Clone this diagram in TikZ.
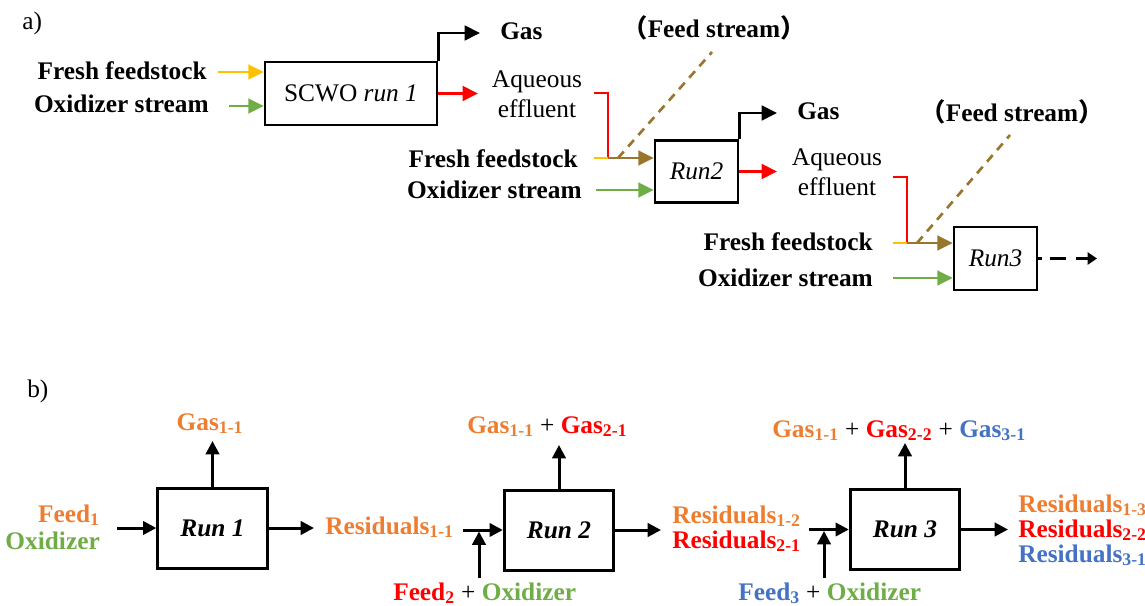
\documentclass[tikz,border=0pt]{standalone}
\usepackage{fontspec}
\setmainfont{Liberation Serif}
\newfontfamily\cjkfont{Noto Sans CJK SC}
\usepackage{tikz}
\usetikzlibrary{arrows.meta, positioning, calc}

\definecolor{feedyellow}{RGB}{255,192,0}
\definecolor{oxgreen}{RGB}{112,173,71}
\definecolor{mixbrown}{RGB}{152,118,46}
\definecolor{runorange}{RGB}{237,125,49}
\definecolor{runblue}{RGB}{68,114,196}

\tikzset{
    unit/.style={draw, line width=2pt, inner sep=0pt, minimum width=62.25pt,
        minimum height=46.5pt, font=\fontsize{19}{22.5}\selectfont},
    runbox/.style={draw, line width=2.25pt, inner sep=0pt, minimum width=82pt,
        minimum height=60pt, font=\bfseries\itshape\fontsize{19}{19}\selectfont},
    flow/.style={line width=2pt, arrows={-{Triangle[length=11.5pt, width=11pt]}}},
    bflow/.style={line width=2.25pt, arrows={-{Triangle[length=10pt, width=10pt]}}},
    pipe/.style={line width=2pt},
    lab/.style={inner sep=0pt, font=\bfseries\fontsize{19}{22.5}\selectfont},
    txt/.style={inner sep=0pt, font=\fontsize{19}{22.5}\selectfont}
}

\begin{document}
\begin{tikzpicture}[x=0.75pt, y=-0.75pt]
        \useasboundingbox (0,0) rectangle (1145,606);
        \node [txt, anchor=base west] (parta) at (22,30) {a)};
        \node [unit, minimum width=129pt, minimum height=47.25pt] (scwo1) at (351,93.5) {SCWO \textit{run 1}};
        \node [lab, anchor=base east] (fresh1) at (207,80) {Fresh feedstock};
        \node [lab, anchor=base east] (oxi1) at (209,113) {Oxidizer stream};
        \coordinate (fresh1in) at (218,72);
        \coordinate (oxi1in) at (229,106);
        \draw [flow, feedyellow] (fresh1in) -- (fresh1in -| scwo1.west);
        \draw [flow, oxgreen] (oxi1in) -- (oxi1in -| scwo1.west);
        \node [lab, anchor=base west] (gas1) at (500,40) {Gas};
        \coordinate (gas1in) at (480,33);
        \draw [flow] (scwo1.north east) |- (gas1in);
        \node [txt, align=center] (aq1) at (537,94) {Aqueous\\effluent};
        \coordinate (aq1in) at (478,93.5);
        \draw [flow, red] (scwo1.east) -- (aq1in);

        \node [unit, font=\itshape\fontsize{19}{22.5}\selectfont] (run2) at (696.5,171.5) {Run2};
        \node [lab, anchor=base east] (fresh2) at (578,167) {Fresh feedstock};
        \node [lab, anchor=base east] (oxi2) at (582,198) {Oxidizer stream};
        \node [lab, anchor=base] (feed2) at (714,38) {{\cjkfont （}Feed stream{\cjkfont ）}};
        \coordinate (aq1out) at (594,93);
        \coordinate (fresh2in) at (594,158);
        \coordinate (mix2) at (608,158);
        \coordinate (oxi2in) at (596,190);
        \coordinate (feed2tip) at (712,52);
        \draw [pipe, red] (aq1out) -| (mix2);
        \draw [pipe, feedyellow] (fresh2in) -- (mix2);
        \draw [flow, mixbrown] (mix2) -- (mix2 -| run2.west);
        \draw [pipe, mixbrown, dash pattern=on 6.5pt off 5pt] ($(mix2)+(10,0)$) -- (feed2tip);
        \draw [flow, oxgreen] (oxi2in) -- (oxi2in -| run2.west);
        \node [lab, anchor=base west] (gas2) at (797,120) {Gas};
        \coordinate (gas2in) at (777,113);
        \draw [flow] (run2.north east) |- (gas2in);
        \node [txt, align=center] (aq2) at (837,172) {Aqueous\\effluent};
        \coordinate (aq2in) at (777,171.5);
        \draw [flow, red] (run2.east) -- (aq2in);

        \node [unit, minimum height=47.25pt, font=\itshape\fontsize{19}{22.5}\selectfont] (run3) at (995.5,258.5) {Run3};
        \node [lab, anchor=base east] (fresh3) at (873,250) {Fresh feedstock};
        \node [lab, anchor=base east] (oxi3) at (873,286) {Oxidizer stream};
        \node [lab, anchor=base] (feed3) at (1012,122) {{\cjkfont （}Feed stream{\cjkfont ）}};
        \coordinate (aq2out) at (893,177);
        \coordinate (fresh3in) at (893,243);
        \coordinate (mix3) at (907,243);
        \coordinate (oxi3in) at (893,278);
        \coordinate (feed3tip) at (1010,135);
        \draw [pipe, red] (aq2out) -| (mix3);
        \draw [pipe, feedyellow] (fresh3in) -- (mix3);
        \draw [flow, mixbrown] (mix3) -- (mix3 -| run3.west);
        \draw [pipe, mixbrown, dash pattern=on 6.5pt off 5pt] ($(mix3)+(10,0)$) -- (feed3tip);
        \draw [flow, oxgreen] (oxi3in) -- (oxi3in -| run3.west);
        \coordinate (run3out) at (1097,258.5);
        \draw [pipe, dash pattern=on 2.5pt off 6pt on 12.5pt off 7.5pt on 30pt,
            arrows={-{Triangle[length=7pt, width=9pt]}}] (run3.east) -- (run3out);

        \node [txt, anchor=base west] (partb) at (27,397) {b)};
        \node [runbox] (brun1) at (212.5,528) {Run 1};
        \node [runbox] (brun2) at (559,530) {Run 2};
        \node [runbox] (brun3) at (905,529.5) {Run 3};

        \node [lab, anchor=base east, runorange] (bfeed1) at (100,522) {Feed\textsubscript{1}};
        \node [lab, anchor=base east, oxgreen] (boxi1) at (100,549) {Oxidizer};
        \coordinate (brun1in) at (117,528);
        \draw [bflow] (brun1in) -- (brun1.west);
        \node [lab, anchor=base, runorange] (bgas1) at (210,430) {Gas\textsubscript{1-1}};
        \coordinate (bgas1in) at (212.5,441);
        \draw [bflow] (brun1.north) -- (bgas1in);
        \coordinate (bres1in) at (314,528);
        \draw [bflow] (brun1.east) -- (bres1in);
        \node [lab, anchor=base west, runorange] (bres1) at (325,534) {Residuals\textsubscript{1-1}};

        \coordinate (bres1out) at (463,530);
        \coordinate (bfeed2out) at (479,578);
        \coordinate (bmix2) at (479,531.5);
        \draw [bflow] (bres1out) -- (brun2.west);
        \draw [bflow] (bfeed2out) -- (bmix2);
        \node [lab, anchor=base west] (bfeed2) at (393,600)
            {\textcolor{red}{Feed\textsubscript{2}} \textmd{+} \textcolor{oxgreen}{Oxidizer}};
        \node [lab, anchor=base west] (bgas2) at (467,433)
            {\textcolor{runorange}{Gas\textsubscript{1-1}} \textmd{+} \textcolor{red}{Gas\textsubscript{2-1}}};
        \coordinate (bgas2in) at (559,445);
        \draw [bflow] (brun2.north) -- (bgas2in);
        \coordinate (bres2in) at (661,530);
        \draw [bflow] (brun2.east) -- (bres2in);
        \node [lab, anchor=base west, runorange] (bres12) at (672,523) {Residuals\textsubscript{1-2}};
        \node [lab, anchor=base west, red] (bres21) at (672,548) {Residuals\textsubscript{2-1}};

        \coordinate (bres2out) at (809,529.5);
        \coordinate (bfeed3out) at (824,578);
        \coordinate (bmix3) at (824,531);
        \draw [bflow] (bres2out) -- (brun3.west);
        \draw [bflow] (bfeed3out) -- (bmix3);
        \node [lab, anchor=base west] (bfeed3) at (738,600)
            {\textcolor{runblue}{Feed\textsubscript{3}} \textmd{+} \textcolor{oxgreen}{Oxidizer}};
        \node [lab, anchor=base west] (bgas3) at (772,437)
            {\textcolor{runorange}{Gas\textsubscript{1-1}} \textmd{+} \textcolor{red}{Gas\textsubscript{2-2}} \textmd{+} \textcolor{runblue}{Gas\textsubscript{3-1}}};
        \coordinate (bgas3in) at (905,443);
        \draw [bflow] (brun3.north) -- (bgas3in);
        \coordinate (bres3in) at (1008,529.5);
        \draw [bflow] (brun3.east) -- (bres3in);
        \node [lab, anchor=base west, runorange] (bres13) at (1018,512) {Residuals\textsubscript{1-3}};
        \node [lab, anchor=base west, red] (bres22) at (1018,537) {Residuals\textsubscript{2-2}};
        \node [lab, anchor=base west, runblue] (bres31) at (1018,562) {Residuals\textsubscript{3-1}};
    \end{tikzpicture}
\end{document}
